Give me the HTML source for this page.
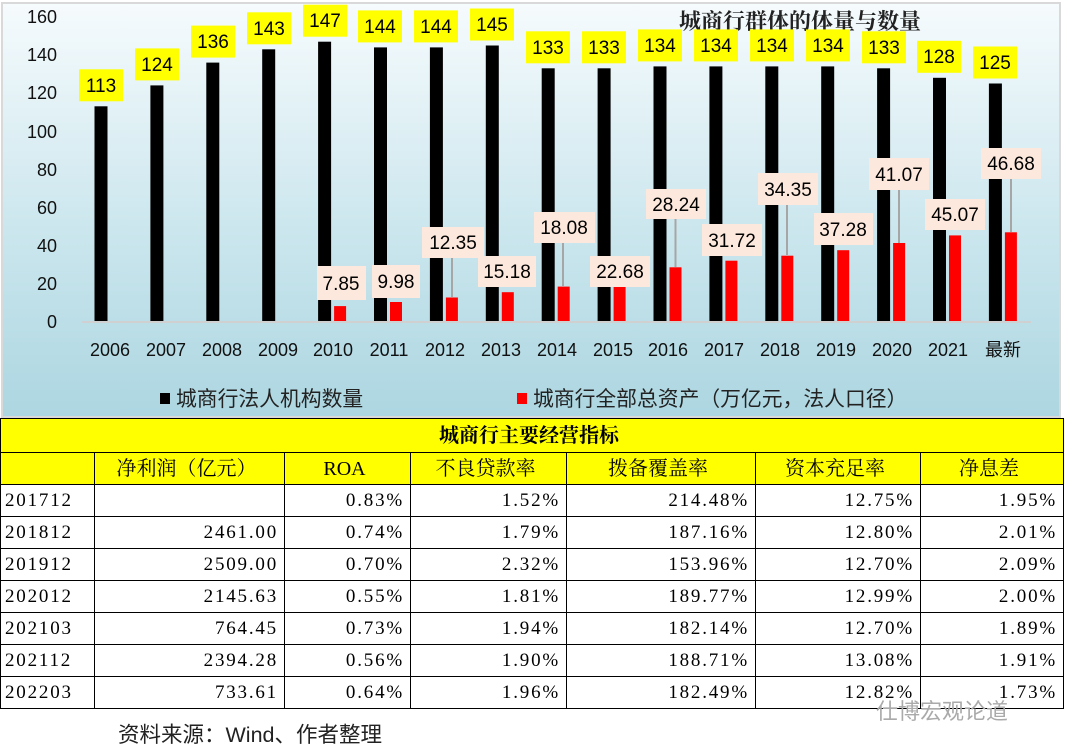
<!DOCTYPE html>
<html><head><meta charset="utf-8"><style>
body{margin:0;width:1065px;height:755px;background:#fff;overflow:hidden;position:relative;font-family:"Liberation Sans","Noto Sans CJK SC",sans-serif}
svg{position:absolute;left:0;top:0}
table{position:absolute;left:0;top:418px;border-collapse:collapse;font-family:"Liberation Serif","Noto Serif CJK SC",serif;font-size:19px;width:1064px;letter-spacing:1.8px}
td{border:1.5px solid #000;height:30px;padding:0 6px 0 0;text-align:right;box-sizing:border-box;line-height:28px}
tr{height:32px}
tr.h td{background:#ffff00;text-align:center;font-size:20px;letter-spacing:0}
td.y{text-align:left;padding-left:4px}
.src{position:absolute;left:118px;top:718px;font-size:21.5px;color:#222}
.wm{position:absolute;left:876px;top:694px;font-size:22px;color:#aaa}
</style></head><body>
<svg width="1065" height="418" viewBox="0 0 1065 418">
<defs><linearGradient id="g" x1="0" y1="0" x2="0" y2="1"><stop offset="0" stop-color="#f6fbfd"/><stop offset="0.5" stop-color="#cfe8ef"/><stop offset="1" stop-color="#acd6e1"/></linearGradient></defs>
<rect x="2" y="3" width="1058" height="414" fill="url(#g)" stroke="#d9d9d9" stroke-width="2"/>
<g font-size="18" fill="#111" text-anchor="end">
<text x="57" y="23">160</text><text x="57" y="61">140</text><text x="57" y="99">120</text><text x="57" y="138">100</text><text x="57" y="176">80</text><text x="57" y="214">60</text><text x="57" y="252">40</text><text x="57" y="290">20</text><text x="57" y="328">0</text>
</g>
<line x1="82" y1="322" x2="1031" y2="322" stroke="#d0d0d0" stroke-width="2"/>
<text x="800" y="29" font-size="22" font-weight="bold" text-anchor="middle" font-family="Liberation Serif,Noto Serif CJK SC,serif" fill="#222">城商行群体的体量与数量</text>
<g fill="#000">
<rect x="94.5" y="106.3" width="13" height="214.7"/><rect x="150.4" y="85.4" width="13" height="235.6"/><rect x="206.3" y="62.6" width="13" height="258.4"/><rect x="262.2" y="49.3" width="13" height="271.7"/><rect x="318.1" y="41.7" width="13" height="279.3"/><rect x="374" y="47.4" width="13" height="273.6"/><rect x="429.9" y="47.4" width="13" height="273.6"/><rect x="485.8" y="45.5" width="13" height="275.5"/><rect x="541.7" y="68.3" width="13" height="252.7"/><rect x="597.6" y="68.3" width="13" height="252.7"/><rect x="653.5" y="66.4" width="13" height="254.6"/><rect x="709.4" y="66.4" width="13" height="254.6"/><rect x="765.3" y="66.4" width="13" height="254.6"/><rect x="821.2" y="66.4" width="13" height="254.6"/><rect x="877.1" y="68.3" width="13" height="252.7"/><rect x="933" y="77.8" width="13" height="243.2"/><rect x="988.9" y="83.5" width="13" height="237.5"/>
</g>
<g fill="#ff0000">
<rect x="334.1" y="306.1" width="12" height="14.9"/><rect x="390" y="302" width="12" height="19"/><rect x="445.9" y="297.5" width="12" height="23.5"/><rect x="501.8" y="292.2" width="12" height="28.8"/><rect x="557.7" y="286.6" width="12" height="34.4"/><rect x="613.6" y="277.9" width="12" height="43.1"/><rect x="669.5" y="267.3" width="12" height="53.7"/><rect x="725.4" y="260.7" width="12" height="60.3"/><rect x="781.3" y="255.7" width="12" height="65.3"/><rect x="837.2" y="250.2" width="12" height="70.8"/><rect x="893.1" y="243" width="12" height="78"/><rect x="949" y="235.4" width="12" height="85.6"/><rect x="1004.9" y="232.3" width="12" height="88.7"/>
</g>
<g stroke="#a6a6a6" stroke-width="2">
<line x1="452" y1="258" x2="452" y2="297"/><line x1="563" y1="243" x2="563" y2="286"/><line x1="675.5" y1="219" x2="675.5" y2="267"/><line x1="787" y1="205" x2="787" y2="255"/><line x1="899" y1="190" x2="899" y2="243"/><line x1="1011" y1="179" x2="1011" y2="232"/>
</g>
<g fill="#ffff00">
<rect x="79" y="69.3" width="44" height="32"/><rect x="135" y="48.4" width="44" height="32"/><rect x="191" y="25.6" width="44" height="32"/><rect x="247" y="12.3" width="44" height="32"/><rect x="303" y="4.7" width="44" height="32"/><rect x="358" y="10.4" width="44" height="32"/><rect x="414" y="10.4" width="44" height="32"/><rect x="470" y="8.5" width="44" height="32"/><rect x="526" y="31.3" width="44" height="32"/><rect x="582" y="31.3" width="44" height="32"/><rect x="638" y="29.4" width="44" height="32"/><rect x="694" y="29.4" width="44" height="32"/><rect x="750" y="29.4" width="44" height="32"/><rect x="806" y="29.4" width="44" height="32"/><rect x="862" y="31.3" width="44" height="32"/><rect x="917" y="40.8" width="44" height="32"/><rect x="973" y="46.5" width="44" height="32"/>
</g>
<g font-size="19" text-anchor="middle" fill="#000">
<text x="101" y="92">113</text><text x="157" y="71">124</text><text x="213" y="48">136</text><text x="269" y="35">143</text><text x="325" y="27">147</text><text x="380" y="33">144</text><text x="436" y="33">144</text><text x="492" y="31">145</text><text x="548" y="54">133</text><text x="604" y="54">133</text><text x="660" y="52">134</text><text x="716" y="52">134</text><text x="772" y="52">134</text><text x="828" y="52">134</text><text x="884" y="54">133</text><text x="939" y="63">128</text><text x="995" y="69">125</text>
</g>
<g fill="#fce8dc">
<rect x="317" y="266" width="49" height="34"/><rect x="372" y="265" width="48" height="33"/><rect x="422" y="227" width="62" height="31"/><rect x="478" y="256" width="58" height="31"/><rect x="534" y="212" width="61" height="31"/><rect x="590" y="256" width="60" height="31"/><rect x="646" y="189" width="60" height="30"/><rect x="702" y="224" width="60" height="32"/><rect x="758" y="173" width="60" height="32"/><rect x="814" y="213" width="59" height="32"/><rect x="869" y="158" width="60" height="32"/><rect x="925" y="199" width="60" height="31"/><rect x="981" y="148" width="60" height="31"/>
</g>
<g font-size="19" text-anchor="middle" fill="#000">
<text x="341" y="290">7.85</text><text x="396" y="288">9.98</text><text x="453" y="249">12.35</text><text x="507" y="278">15.18</text><text x="564" y="234">18.08</text><text x="620" y="278">22.68</text><text x="676" y="211">28.24</text><text x="732" y="247">31.72</text><text x="788" y="196">34.35</text><text x="843" y="236">37.28</text><text x="899" y="181">41.07</text><text x="955" y="221">45.07</text><text x="1011" y="170">46.68</text>
</g>
<g font-size="18" text-anchor="middle" fill="#111">
<text x="110" y="356">2006</text><text x="166" y="356">2007</text><text x="222" y="356">2008</text><text x="278" y="356">2009</text><text x="333" y="356">2010</text><text x="389" y="356">2011</text><text x="445" y="356">2012</text><text x="501" y="356">2013</text><text x="557" y="356">2014</text><text x="613" y="356">2015</text><text x="668" y="356">2016</text><text x="724" y="356">2017</text><text x="780" y="356">2018</text><text x="836" y="356">2019</text><text x="892" y="356">2020</text><text x="948" y="356">2021</text><text x="1003" y="356">最新</text>
</g>
<rect x="160" y="393" width="10" height="11" fill="#000"/>
<text x="176" y="406" font-size="20.8" fill="#222">城商行法人机构数量</text>
<rect x="517" y="393" width="10" height="11" fill="#f00"/>
<text x="533" y="406" font-size="20.8" fill="#222">城商行全部总资产（万亿元，法人口径）</text>
</svg>
<table>
<tr class="h" style="height:34px"><td colspan="7" style="font-weight:bold">城商行主要经营指标</td></tr>
<tr class="h"><td style="width:94px"></td><td style="width:190px">净利润（亿元）</td><td style="width:126px">ROA</td><td style="width:156px">不良贷款率</td><td style="width:189px">拨备覆盖率</td><td style="width:165px">资本充足率</td><td>净息差</td></tr>
<tr><td class="y">201712</td><td></td><td>0.83%</td><td>1.52%</td><td>214.48%</td><td>12.75%</td><td>1.95%</td></tr>
<tr><td class="y">201812</td><td>2461.00</td><td>0.74%</td><td>1.79%</td><td>187.16%</td><td>12.80%</td><td>2.01%</td></tr>
<tr><td class="y">201912</td><td>2509.00</td><td>0.70%</td><td>2.32%</td><td>153.96%</td><td>12.70%</td><td>2.09%</td></tr>
<tr><td class="y">202012</td><td>2145.63</td><td>0.55%</td><td>1.81%</td><td>189.77%</td><td>12.99%</td><td>2.00%</td></tr>
<tr><td class="y">202103</td><td>764.45</td><td>0.73%</td><td>1.94%</td><td>182.14%</td><td>12.70%</td><td>1.89%</td></tr>
<tr><td class="y">202112</td><td>2394.28</td><td>0.56%</td><td>1.90%</td><td>188.71%</td><td>13.08%</td><td>1.91%</td></tr>
<tr><td class="y">202203</td><td>733.61</td><td>0.64%</td><td>1.96%</td><td>182.49%</td><td>12.82%</td><td>1.73%</td></tr>
</table>
<div class="src">资料来源：Wind、作者整理</div>
<div class="wm">仕博宏观论道</div>
</body></html>
